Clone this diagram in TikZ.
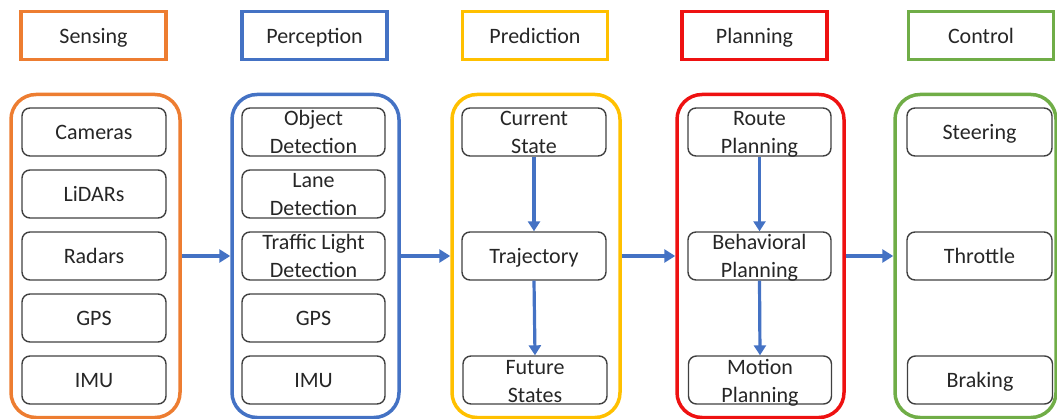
\documentclass[tikz,border=0pt]{standalone}
\usepackage{fontspec}
\setmainfont{Carlito}
\usetikzlibrary{arrows.meta}

\definecolor{cOrange}{HTML}{ED7D31}
\definecolor{cBlue}{HTML}{4472C4}
\definecolor{cYellow}{HTML}{FFC000}
\definecolor{cRed}{HTML}{EE1111}
\definecolor{cGreen}{HTML}{70AD47}
\definecolor{cText}{HTML}{262626}
\definecolor{cEdge}{HTML}{404040}

% two-line label with fixed outer height and depth, so all such labels sit alike
\newcommand{\twolines}[2]{\rule{0pt}{18pt}\smash{#1}\\\smash{#2}\rule[-2pt]{0pt}{2pt}}

\begin{document}
\begin{tikzpicture}[x=1pt,y=-1pt,
  every node/.style={text=cText},
  header/.style={draw=#1, line width=3.5pt, minimum width=145pt, minimum height=48pt,
    inner sep=0pt, text height=18pt, text depth=2pt, font=\fontsize{22}{27}\selectfont},
  stage/.style={draw=#1, line width=3.5pt, rounded corners=25pt, minimum height=323pt, inner sep=0pt},
  item/.style={draw=cEdge, line width=1.4pt, rounded corners=8pt, minimum width=144pt,
    minimum height=48pt, inner sep=0pt, align=center, text height=18pt, text depth=2pt,
    font=\fontsize{22}{28}\selectfont},
  twoline/.style={text height=, text depth=},
  flow/.style={draw=cBlue, line width=3.5pt, -{Triangle[length=11pt,width=13pt]}},
  vflow/.style={draw=cBlue, line width=3.2pt, -{Triangle[length=10pt,width=12pt]}}
]
\useasboundingbox (0,0) rectangle (1057,419);

% stage titles
\node[header=cOrange] (hsen) at (93.5,35.5) {Sensing};
\node[header=cBlue]   (hper) at (314.5,35.5) {Perception};
\node[header=cYellow] (hpre) at (535,35.5) {Prediction};
\node[header=cRed]    (hpla) at (754.5,35.5) {Planning};
\node[header=cGreen]  (hcon) at (981,35.5) {Control};

% stage containers
\node[stage=cOrange, minimum width=169pt] (sen) at (95.5,256) {};
\node[stage=cBlue,   minimum width=167pt] (per) at (315.5,256) {};
\node[stage=cYellow, minimum width=168pt] (pre) at (536,256) {};
\node[stage=cRed,    minimum width=167pt] (pla) at (760.5,256) {};
\node[stage=cGreen,  minimum width=161pt] (con) at (975.5,256) {};

% sensing
\node[item] (cam) at (94,132) {Cameras};
\node[item] (lid) at (94,194) {LiDARs};
\node[item] (rad) at (94,256) {Radars};
\node[item] (gps1) at (94,318) {GPS};
\node[item] (imu1) at (94,380) {IMU};

% perception
\node[item, twoline, minimum width=143pt] (obj) at (313.5,132) {\twolines{Object}{Detection}};
\node[item, twoline, minimum width=143pt] (lane) at (313.5,194) {\twolines{Lane}{Detection}};
\node[item, twoline, minimum width=143pt] (tl) at (313.5,256) {\twolines{Traffic Light}{Detection}};
\node[item, minimum width=143pt] (gps2) at (313.5,318) {GPS};
\node[item, minimum width=143pt] (imu2) at (313.5,380) {IMU};

% prediction
\node[item, twoline] (cur) at (534,132) {\twolines{Current}{State}};
\node[item] (traj) at (534,256) {Trajectory};
\node[item, twoline] (fut) at (535,380) {\twolines{Future}{States}};

% planning
\node[item, twoline, minimum width=143pt] (route) at (759.5,132) {\twolines{Route}{Planning}};
\node[item, twoline, minimum width=143pt] (beh) at (759.5,256) {\twolines{Behavioral}{Planning}};
\node[item, twoline, minimum width=143pt] (mot) at (760,380) {\twolines{Motion}{Planning}};

% control
\node[item, minimum width=145pt] (steer) at (979.5,132) {Steering};
\node[item, minimum width=145pt] (thr) at (979.5,256) {Throttle};
\node[item, minimum width=145pt] (brk) at (980,380) {Braking};

% flow between stages
\draw[flow] (sen.east) -- (per.west);
\draw[flow] (per.east) -- (pre.west);
\draw[flow] (pre.east) -- (pla.west);
\draw[flow] (pla.east) -- (con.west);

% flow inside stages
\draw[vflow] (cur.south) -- (traj.north);
\draw[vflow] (traj.south) -- (fut.north);
\draw[vflow] (route.south) -- (beh.north);
\draw[vflow] (beh.south) -- (mot.north);
\end{tikzpicture}
\end{document}
